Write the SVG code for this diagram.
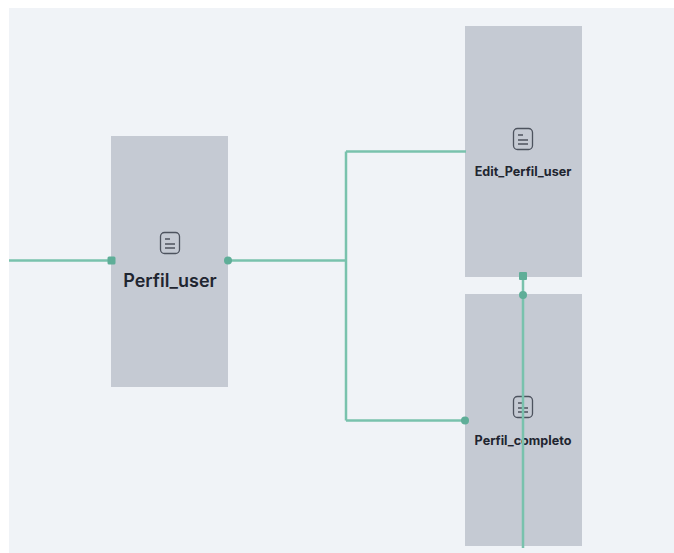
<svg xmlns="http://www.w3.org/2000/svg" width="674" height="553" viewBox="0 0 674 553">
<defs>
<style>
.node{fill:#c5cad3}
.wire{fill:none;stroke:#79c2ad;stroke-width:2.5}
.port{fill:#5fae98}
.icon{fill:none;stroke:#4d535e;stroke-width:1.3}
.big{font:600 18px Inter,"Liberation Sans",sans-serif;fill:#1f2530;text-anchor:middle}
.small{font:700 12.6px Inter,"Liberation Sans",sans-serif;fill:#1f2530;text-anchor:middle}
</style>
<g id="doc"><rect x="-9.500" y="-10.500" width="19" height="21" rx="4" class="icon"/><path d="M-5-4H0M-5 1H5M-5 5H5" class="icon"/></g>
</defs>
<rect width="674" height="553" fill="#fff"/>
<rect x="9" y="8" width="665" height="545" fill="#f0f3f7"/>
<g id="n1"><rect class="node" x="111" y="136" width="117" height="251"/><use href="#doc" x="170" y="243"/><text class="big" x="170" y="287">Perfil_user</text></g>
<g id="n2"><rect class="node" x="465" y="26" width="117" height="251"/><use href="#doc" x="523" y="139"/><text class="small" x="523" y="176">Edit_Perfil_user</text></g>
<g id="n3"><rect class="node" x="465" y="294" width="117" height="252"/><use href="#doc" x="523" y="407"/><text class="small" x="523" y="445">Perfil_completo</text></g>
<g id="connectors">
<path class="wire" d="M9 260.500H112"/>
<path class="wire" d="M228 260.500H346M346 151.500V420.500M346 151.500H466M346 420.500H465"/>
<path class="wire" d="M523 276V295M523 295V548" stroke-width="3"/>
<rect class="port" x="107.500" y="256.500" width="8" height="8" rx="1.500"/>
<circle class="port" cx="228" cy="260.500" r="4"/>
<circle class="port" cx="465" cy="420.500" r="4"/>
<rect class="port" x="519" y="272" width="8" height="8" rx="1"/>
<circle class="port" cx="523" cy="295" r="4"/>
</g>
</svg>
